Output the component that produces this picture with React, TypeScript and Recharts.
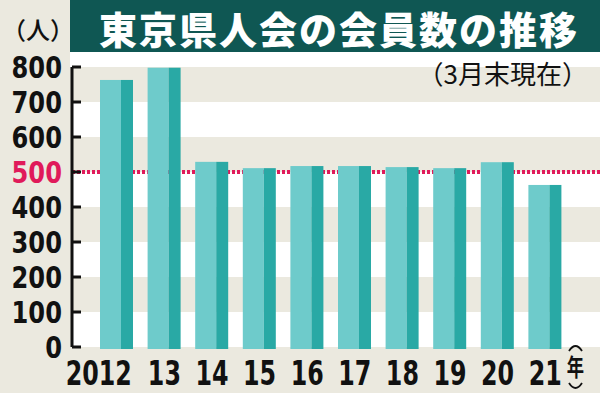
import { BarChart, Bar, XAxis, YAxis, CartesianGrid, ReferenceLine } from "recharts";

const years = ["2012", "13", "14", "15", "16", "17", "18", "19", "20", "21"];
const members = [763, 798, 529, 511, 517, 517, 514, 511, 528, 463];
const yTicks = [0, 100, 200, 300, 400, 500, 600, 700, 800];

const data = years.map((year, i) => ({ year, members: members[i] }));

const BEIGE = "#ebe9df";
const TITLE_BG = "#0f5753";
const LIGHT = "#6ecbcb";
const DARK = "#29a9a5";
const RED = "#e01a5a";
const NUM_FONT = "'DejaVu Sans', sans-serif";
const JP_FONT = "'Noto Sans CJK JP', sans-serif";

function TwoToneBar(props: any) {
  const { x, y, width, height } = props;
  const light = Math.round(width * 0.64);
  return (
    <g>
      <rect x={x} y={y} width={light} height={height + 2} fill={LIGHT} />
      <rect x={x + light} y={y} width={width - light} height={height + 2} fill={DARK} />
    </g>
  );
}

function YTick(props: any) {
  const { x, y, payload } = props;
  const red = payload.value === 500;
  return (
    <g>
      <line x1={x + 10} x2={x + 19} y1={y} y2={y} stroke="#111" strokeWidth={3} />
      <text
        transform={`translate(${x},${y + 11}) scale(0.78,1)`}
        textAnchor="end"
        fontFamily={NUM_FONT}
        fontWeight="bold"
        fontSize={31}
        fill={red ? RED : "#111"}
      >
        {payload.value}
      </text>
    </g>
  );
}

function XTick(props: any) {
  const { x, y, payload } = props;
  const first = payload.value === "2012";
  return (
    <text
      transform={`translate(${first ? x + 15 : x},${y + 38}) scale(0.72,1)`}
      textAnchor={first ? "end" : "middle"}
      fontFamily={NUM_FONT}
      fontWeight="bold"
      fontSize={33}
      fill="#111"
    >
      {payload.value}
    </text>
  );
}

export default function App() {
  return (
    <div style={{ position: "absolute", left: 0, top: 0, width: 600, height: 393, background: BEIGE, overflow: "hidden" }}>
      <div style={{ position: "absolute", left: 70, top: 0, width: 530, height: 52, background: TITLE_BG }} />
      <div style={{ position: "absolute", left: 70, top: 52, width: 530, height: 15, background: "#fff" }} />
      <div style={{
        position: "absolute", left: 99, top: 0, lineHeight: "56px",
        color: "#fff", fontFamily: JP_FONT, fontWeight: 900, fontSize: 38, letterSpacing: 2, whiteSpace: "nowrap"
      }}>
        東京県人会の会員数の推移
      </div>
      <div style={{
        position: "absolute", left: 2, top: 14, lineHeight: "30px",
        color: "#111", fontFamily: JP_FONT, fontWeight: 500, fontSize: 24, whiteSpace: "nowrap"
      }}>
        （人）
      </div>

      <div style={{ position: "absolute", left: 0, top: 0 }}>
        <BarChart width={600} height={393} data={data} margin={{ top: 67, right: 0, bottom: 0, left: 0 }}>
          <CartesianGrid vertical={false} stroke="none" horizontalFill={[BEIGE, "#fff"]} fillOpacity={1} />
          <ReferenceLine y={500} stroke={RED} strokeWidth={4} strokeDasharray="3 2" zIndex={-50} />
          <XAxis
            dataKey="year"
            height={46}
            axisLine={false}
            tickLine={false}
            tickSize={0}
            tickMargin={0}
            interval={0}
            padding={{ left: 21, right: 31 }}
            tick={<XTick />}
          />
          <YAxis
            width={72}
            domain={[0, 800]}
            ticks={yTicks}
            interval={0}
            axisLine={{ stroke: "#111", strokeWidth: 3 }}
            tickLine={false}
            tickSize={0}
            tickMargin={10}
            tick={<YTick />}
          />
          <Bar dataKey="members" barSize={33} shape={<TwoToneBar />} isAnimationActive={false} />
        </BarChart>
      </div>

      <div style={{
        position: "absolute", right: 12, top: 57, lineHeight: "32px",
        color: "#111", fontFamily: JP_FONT, fontWeight: 400, fontSize: 26, whiteSpace: "nowrap"
      }}>
        （3月末現在）
      </div>
      <svg style={{ position: "absolute", left: 560, top: 338 }} width={32} height={55}>
        <path d="M9,13 Q15.5,3 22,13" fill="none" stroke="#111" strokeWidth={1.8} />
        <path d="M9,45 Q15.5,55 22,45" fill="none" stroke="#111" strokeWidth={1.8} />
        <text
          transform="translate(15.5,38) scale(0.72,1)"
          textAnchor="middle"
          fontFamily={JP_FONT}
          fontWeight="bold"
          fontSize={24}
          fill="#111"
        >
          年
        </text>
      </svg>
    </div>
  );
}
